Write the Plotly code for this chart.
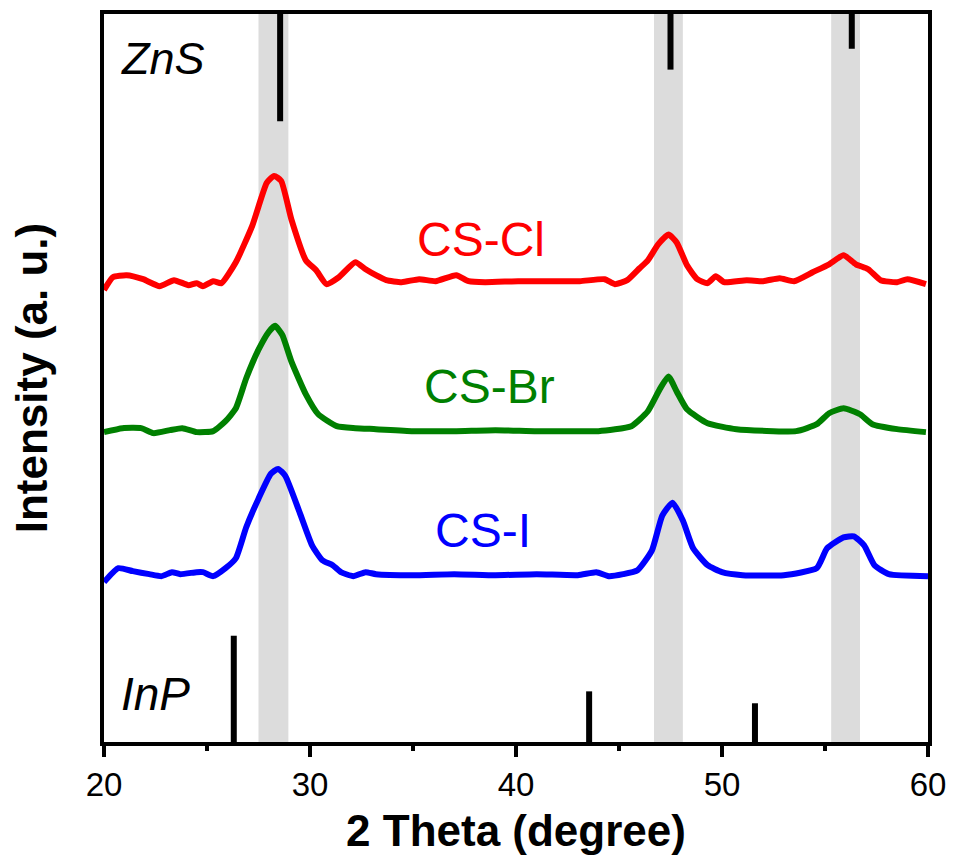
import plotly.graph_objects as go

# ---- data (2-theta in degrees, intensity in arbitrary stacked units) ----
cl_x = [20, 20.43, 21.1, 21.9, 22.7, 23.4, 24.1, 24.5, 24.8, 25.3, 25.7, 26.4, 27.2, 27.9, 28.26, 28.6,
        29.1, 29.8, 30.3, 30.8, 31.4, 32.2, 32.7, 33.2, 33.7, 34.45, 35.3, 36.1, 37.1, 37.7, 38.5, 40.1,
        41.7, 43.1, 44.3, 44.8, 45.4, 46.0, 46.4, 46.9, 47.4, 47.8, 48.3, 48.8, 49.3, 49.7, 50.1, 51.2,
        52.0, 52.8, 53.5, 54.4, 55.2, 55.9, 56.5, 57.1, 57.7, 58.5, 59.0, 59.9]
cl_y = [455, 468, 470, 466, 459, 465, 460, 462, 459, 464, 462, 483, 520, 563, 570, 565,
        526, 485, 475, 461, 468, 483, 476, 470, 465, 463, 466, 464, 470, 464, 463, 464,
        464, 464, 466, 461, 465, 477, 485, 501, 511, 503, 480, 466, 462, 469, 463, 465,
        464, 467, 464, 473, 481, 490, 481, 476, 465, 463, 466, 461]

br_x = [20, 20.9, 21.8, 22.4, 23.2, 23.8, 24.5, 25.3, 25.9, 26.4, 26.9, 27.5, 28.0, 28.3, 28.65, 29.1,
        29.8, 30.4, 31.3, 32.2, 33.2, 35, 37, 39, 41, 43, 44.0, 45.6, 46.4, 47.0, 47.4, 47.8,
        48.3, 49.3, 50.7, 53.6, 54.6, 55.2, 55.9, 56.7, 57.3, 58.5, 59.9]
br_y = [312, 316, 316, 311, 314, 316, 312, 313, 323, 336, 366, 395, 413, 419, 410, 383,
        350, 330, 318, 316, 315, 313, 313, 314, 313, 313, 313, 318, 333, 356, 368, 353,
        335, 321, 315, 313, 320, 331, 336, 330, 320, 315, 312]

i_x = [20, 20.7, 21.4, 22.2, 22.8, 23.3, 23.7, 24.5, 24.8, 25.3, 25.9, 26.4, 26.9, 27.5, 28.1, 28.45,
       28.8, 29.5, 30.1, 30.6, 31.1, 31.5, 32.1, 32.7, 33.2, 35, 37, 39, 41, 43, 43.9, 44.5,
       45.2, 45.9, 46.6, 47.1, 47.6, 48.1, 48.6, 49.3, 50.0, 51, 53, 54.6, 55.1, 55.9, 56.4, 56.9,
       57.4, 58.1, 60]
i_y = [161, 175, 172, 169, 167, 171, 169, 171, 171, 167, 175, 185, 216, 245, 270, 275,
       268, 231, 198, 183, 178, 171, 167, 171, 169, 168, 169, 168, 169, 168, 171, 167,
       169, 173, 193, 228, 241, 223, 195, 178, 171, 168, 168, 175, 195, 206, 207, 198,
       178, 169, 167]

zns_pos = [28.55, 47.5, 56.3]
zns_len = [108, 56, 35]
inp_pos = [26.3, 43.55, 51.6]
inp_len = [107, 51, 39]

bands = [(27.5, 28.95), (46.7, 48.1), (55.3, 56.7)]

Y_TOP = 733

fig = go.Figure()

for x0, x1 in bands:
    fig.add_shape(type="rect", xref="x", yref="y", x0=x0, x1=x1, y0=0, y1=Y_TOP,
                  fillcolor="#dcdcdc", line_width=0, layer="below")

# ZnS reference sticks (from top)
for p, L in zip(zns_pos, zns_len):
    fig.add_trace(go.Scatter(x=[p, p], y=[Y_TOP, Y_TOP - L], mode="lines",
                             line=dict(color="black", width=6), showlegend=False, hoverinfo="skip"))
# InP reference sticks (from bottom)
for p, L in zip(inp_pos, inp_len):
    fig.add_trace(go.Scatter(x=[p, p], y=[0, L], mode="lines",
                             line=dict(color="black", width=6), showlegend=False, hoverinfo="skip"))

for xs, ys, col in [(cl_x, cl_y, "#ff0000"), (br_x, br_y, "#008000"), (i_x, i_y, "#0000ff")]:
    fig.add_trace(go.Scatter(x=xs, y=ys, mode="lines",
                             line=dict(color=col, width=6, shape="spline", smoothing=0.5),
                             showlegend=False))

font_family = "Arial, Liberation Sans, sans-serif"
labels = [("CS-Cl", 38.3, 506, "#ff0000"), ("CS-Br", 38.7, 358, "#008000"), ("CS-I", 38.4, 213, "#0000ff")]
for t, x, y, c in labels:
    fig.add_annotation(x=x, y=y, text=t, showarrow=False, font=dict(family=font_family, size=48, color=c))
fig.add_annotation(x=22.85, y=688, text="<i>ZnS</i>", showarrow=False,
                   font=dict(family=font_family, size=45, color="black"))
fig.add_annotation(x=22.5, y=48, text="<i>InP</i>", showarrow=False,
                   font=dict(family=font_family, size=46, color="black"))

fig.update_layout(
    width=956, height=868,
    margin=dict(l=104, r=20, t=10, b=126),
    paper_bgcolor="white", plot_bgcolor="white",
    font=dict(family=font_family, color="black"),
    xaxis=dict(range=[20, 60], tickvals=[20, 30, 40, 50, 60], ticks="outside", ticklen=11, tickwidth=3.5,
               tickcolor="black", showline=True, linewidth=3.5, linecolor="black", mirror=True,
               showgrid=False, zeroline=False, tickfont=dict(size=33),
               minor=dict(tickvals=[25, 35, 45, 55], ticks="outside", ticklen=5, tickwidth=3.5, tickcolor="black"),
               title=dict(text="<b>2 Theta (degree)</b>", font=dict(size=44), standoff=14)),
    yaxis=dict(range=[0, Y_TOP], showticklabels=False, ticks="", showline=True, linewidth=3.5,
               linecolor="black", mirror=True, showgrid=False, zeroline=False,
               title=dict(text="<b>Intensity (a. u.)</b>", font=dict(size=44), standoff=40)),
)

# remove the browser's default page margin / scrollbars so the figure fills the window exactly
fig.write_html("out.html",
               config={"displayModeBar": False, "responsive": False},
               post_script="document.body.style.margin='0';document.body.style.overflow='hidden';")
